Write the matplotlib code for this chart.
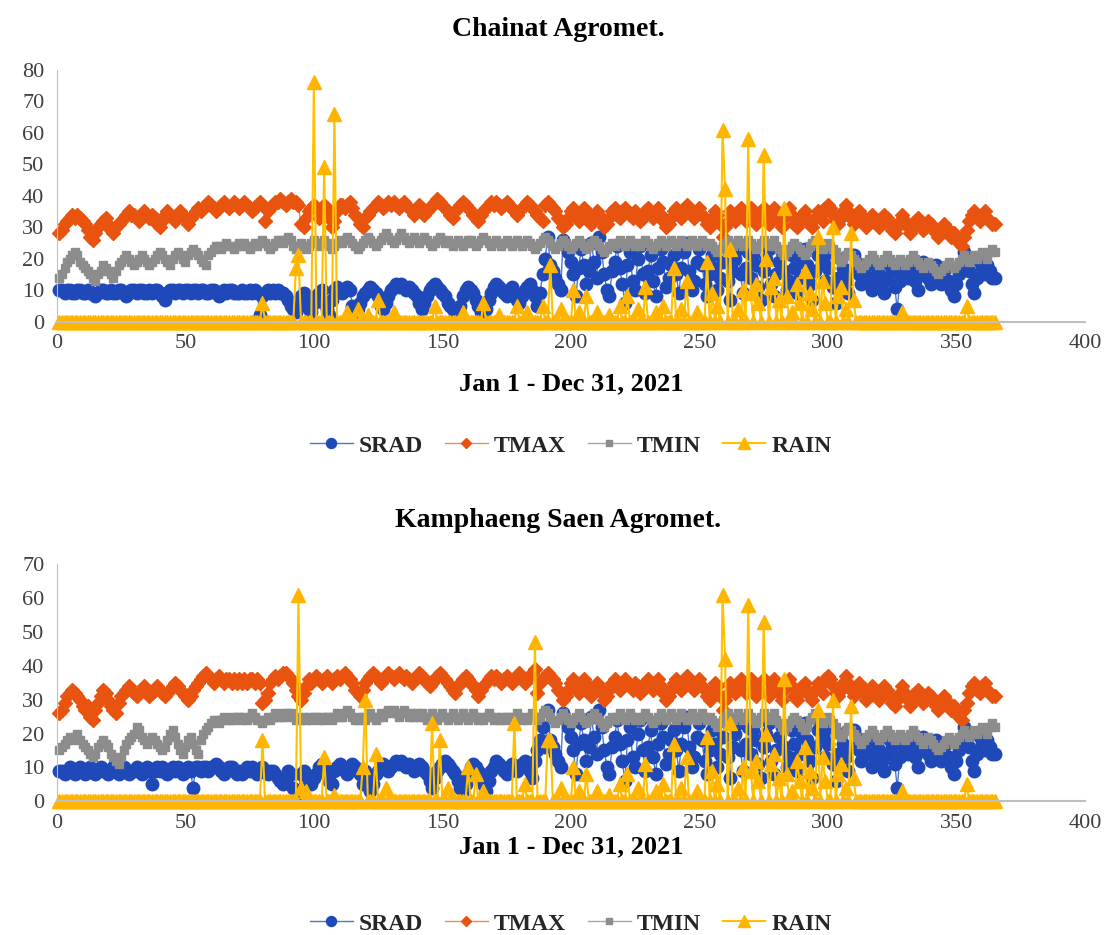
import numpy as np
import matplotlib.pyplot as plt

# ---------------- data ----------------
# Chainat Agromet., day 1..365
srad_cn = [10, 10, 9, 10, 10, 9, 9, 10, 10, 9,
           9, 10, 9, 9, 8, 9, 10, 10, 9, 9,
           10, 9, 9, 10, 10, 9, 8, 9, 10, 10,
           9, 10, 10, 9, 9, 10, 9, 10, 10, 9,
           8, 7, 9, 10, 10, 9, 10, 10, 9, 10,
           10, 9, 10, 10, 9, 10, 10, 9, 9, 10,
           10, 9, 8, 9, 10, 9, 10, 10, 9, 9,
           9, 10, 9, 9, 10, 9, 10, 9, 2, 8,
           9, 10, 9, 10, 9, 10, 9, 9, 8, 7,
           5, 4, 3, 5, 8, 9, 7, 4, 3, 6,
           8, 9, 10, 6, 4, 2, 7, 10, 11, 10,
           9, 10, 11, 10, 5, 3, 4, 6, 8, 9,
           10, 11, 10, 9, 8, 5, 4, 6, 8, 10,
           11, 12, 11, 12, 11, 10, 11, 10, 9, 8,
           6, 4, 6, 8, 10, 11, 12, 11, 10, 9,
           8, 6, 5, 4, 3, 2, 5, 8, 10, 11,
           10, 9, 7, 5, 3, 2, 4, 7, 9, 11,
           12, 11, 10, 9, 8, 10, 11, 9, 7, 6,
           8, 10, 11, 12, 10, 8, 5, 9, 15, 20,
           27, 18, 16, 14, 12, 10, 26, 24, 22, 19,
           15, 8, 17, 23, 18, 12, 16, 25, 19, 14,
           27, 22, 15, 10, 8, 16, 19, 24, 17, 12,
           6, 18, 22, 13, 10, 20, 24, 15, 9, 16,
           21, 13, 8, 17, 23, 19, 11, 14, 18, 21,
           15, 9, 17, 22, 25, 16, 10, 13, 19, 23,
           18, 12, 8, 15, 21, 17, 10, 14, 19, 24,
           13, 7, 16, 20, 23, 15, 9, 17, 22, 14,
           21, 18, 11, 7, 16, 20, 23, 12, 8, 15,
           19, 22, 16, 10, 13, 21, 17, 9, 14, 20,
           23, 18, 12, 7, 16, 21, 24, 19, 13, 17,
           22, 11, 6, 14, 20, 17, 13, 9, 16, 21,
           19, 15, 12, 16, 18, 14, 10, 13, 17, 15,
           12, 9, 14, 18, 16, 11, 4, 13, 17, 15,
           14, 16, 18, 13, 10, 15, 19, 17, 14, 12,
           16, 18, 15, 12, 14, 17, 13, 10, 8, 12,
           15, 18, 22, 20, 16, 12, 9, 14, 19, 17,
           15, 18, 16, 14, 14]
tmax_cn = [28, 29, 31, 32, 33, 34, 33, 34, 33, 32,
           31, 29, 27, 26, 28, 30, 31, 32, 33, 31,
           29, 28, 30, 31, 32, 33, 34, 35, 34, 34,
           33, 32, 34, 35, 34, 33, 34, 33, 31, 30,
           32, 34, 35, 34, 33, 32, 34, 35, 34, 33,
           31, 33, 34, 35, 36, 35, 36, 37, 38, 37,
           36, 35, 36, 37, 38, 37, 36, 37, 38, 37,
           36, 37, 38, 37, 36, 35, 36, 37, 38, 37,
           32, 35, 36, 37, 38, 38, 39, 38, 37, 38,
           39, 38, 38, 37, 31, 30, 33, 35, 36, 37,
           36, 33, 35, 37, 36, 33, 30, 32, 35, 37,
           37, 36, 37, 38, 36, 34, 33, 31, 30, 33,
           34, 35, 36, 37, 38, 37, 36, 37, 38, 37,
           38, 37, 36, 37, 38, 37, 36, 35, 34, 36,
           37, 36, 34, 35, 36, 37, 38, 39, 38, 37,
           36, 35, 34, 33, 35, 36, 37, 38, 37, 36,
           35, 34, 33, 32, 34, 35, 36, 37, 38, 37,
           38, 37, 36, 37, 38, 37, 36, 35, 34, 35,
           36, 37, 38, 37, 36, 35, 34, 33, 32, 37,
           38, 37, 36, 35, 33, 32, 30, 31, 33, 35,
           36, 34, 32, 34, 36, 35, 33, 31, 33, 35,
           34, 32, 30, 31, 33, 35, 36, 34, 33, 35,
           36, 35, 34, 33, 35, 34, 32, 33, 35, 36,
           34, 33, 35, 36, 34, 32, 30, 31, 33, 35,
           36, 34, 33, 35, 37, 36, 34, 33, 35, 36,
           34, 33, 31, 30, 33, 35, 34, 31, 27, 30,
           32, 35, 34, 32, 33, 36, 34, 32, 35, 36,
           34, 31, 33, 35, 36, 33, 31, 34, 36, 35,
           32, 30, 33, 35, 36, 34, 31, 30, 32, 34,
           35, 33, 31, 30, 33, 35, 34, 32, 36, 37,
           36, 34, 32, 31, 33, 35, 37, 35, 33, 31,
           33, 35, 34, 32, 30, 32, 34, 33, 31, 30,
           32, 34, 33, 31, 29, 28, 30, 32, 34, 32,
           30, 28, 30, 32, 33, 31, 29, 30, 32, 31,
           30, 28, 27, 29, 31, 30, 28, 27, 28, 27,
           25, 24, 27, 29, 32, 34, 35, 33, 32, 34,
           35, 33, 32, 31, 31]
tmin_cn = [14, 15, 17, 19, 20, 21, 22, 21, 19, 18,
           17, 16, 15, 14, 13, 15, 16, 18, 17, 16,
           15, 14, 16, 18, 19, 20, 21, 20, 19, 18,
           19, 20, 21, 20, 19, 18, 19, 20, 21, 22,
           21, 20, 19, 18, 20, 21, 22, 21, 20, 19,
           21, 22, 23, 22, 21, 20, 19, 18, 21, 22,
           23, 24, 24, 23, 24, 25, 24, 24, 23, 24,
           25, 24, 25, 24, 23, 24, 25, 24, 25, 26,
           25, 24, 23, 24, 25, 26, 26, 25, 26, 27,
           26, 24, 23, 24, 25, 24, 23, 24, 25, 26,
           25, 24, 25, 26, 25, 24, 23, 24, 25, 26,
           25, 26, 27, 26, 25, 24, 23, 24, 25, 26,
           27, 26, 25, 24, 25, 26, 27, 28, 27, 26,
           25, 26, 27, 28, 27, 26, 25, 26, 27, 26,
           25, 26, 27, 26, 25, 24, 25, 26, 27, 26,
           25, 26, 25, 24, 25, 26, 25, 24, 25, 26,
           26, 25, 24, 25, 26, 27, 26, 25, 24, 25,
           26, 25, 24, 25, 26, 25, 24, 25, 26, 25,
           24, 25, 26, 25, 24, 23, 24, 25, 26, 27,
           26, 25, 24, 23, 24, 25, 26, 25, 24, 23,
           24, 25, 26, 25, 24, 23, 24, 25, 26, 25,
           24, 23, 22, 23, 24, 25, 24, 25, 26, 25,
           24, 25, 26, 25, 24, 25, 24, 25, 26, 25,
           24, 23, 24, 25, 26, 25, 24, 25, 26, 25,
           24, 25, 26, 25, 24, 25, 26, 25, 24, 25,
           26, 25, 24, 25, 24, 23, 22, 23, 24, 25,
           26, 25, 24, 25, 26, 25, 24, 25, 26, 25,
           24, 23, 24, 25, 26, 25, 24, 25, 26, 24,
           23, 22, 21, 22, 23, 24, 25, 24, 23, 22,
           21, 22, 24, 25, 26, 25, 24, 23, 24, 25,
           24, 23, 22, 20, 19, 20, 21, 22, 21, 20,
           19, 18, 17, 18, 19, 20, 21, 20, 19, 18,
           19, 20, 21, 20, 19, 18, 19, 20, 19, 18,
           19, 20, 21, 20, 19, 18, 17, 18, 19, 18,
           17, 16, 15, 16, 17, 18, 19, 18, 17, 18,
           19, 20, 21, 20, 19, 20, 21, 20, 21, 22,
           21, 20, 22, 23, 22]
rain_days_cn = [80, 93, 94, 100, 104, 108, 113, 117, 121, 125, 131, 147, 158,
                166, 172, 179, 183, 189, 192, 196, 201, 203, 206, 210, 215, 219,
                222, 226, 229, 233, 236, 240, 243, 245, 249, 253, 255, 257, 259,
                260, 262, 265, 267, 269, 270, 272, 273, 275, 276, 278, 279, 281,
                283, 284, 286, 288, 289, 291, 293, 294, 296, 298, 299, 302, 304,
                305, 307, 309, 310, 329, 354]
rain_mm_cn = [6, 17, 21, 76, 49, 66, 3, 4, 2, 7, 3, 5, 3,
              6, 2, 5, 3, 5, 18, 4, 10, 3, 8, 3, 2, 5,
              8, 4, 11, 3, 5, 17, 4, 13, 3, 19, 9, 5, 61,
              42, 23, 4, 10, 58, 9, 12, 6, 53, 20, 11, 14, 7,
              36, 8, 3, 12, 6, 16, 9, 4, 27, 13, 6, 30, 8,
              11, 4, 28, 7, 3, 5]

# Kamphaeng Saen Agromet., day 1..190 (after that the traces repeat Chainat's)
srad_ks_head = [9, 9, 8, 9, 10, 9, 8, 9, 10, 9,
                8, 9, 10, 9, 8, 9, 10, 9, 9, 8,
                9, 10, 9, 8, 9, 10, 9, 8, 9, 9,
                10, 9, 8, 9, 10, 9, 5, 9, 10, 9,
                10, 9, 8, 9, 10, 9, 10, 9, 8, 9,
                10, 9, 4, 10, 10, 9, 10, 10, 9, 10,
                10, 11, 10, 9, 8, 9, 10, 10, 9, 8,
                9, 8, 9, 10, 9, 10, 9, 8, 9, 10,
                9, 8, 9, 9, 8, 7, 6, 5, 6, 9,
                8, 4, 1, 3, 8, 9, 8, 6, 5, 7,
                8, 10, 11, 10, 9, 6, 5, 9, 10, 11,
                10, 9, 8, 10, 11, 10, 9, 8, 5, 9,
                6, 3, 5, 8, 9, 10, 11, 10, 9, 10,
                11, 12, 11, 12, 11, 10, 11, 10, 9, 10,
                11, 10, 9, 8, 6, 4, 7, 9, 10, 11,
                12, 11, 10, 9, 8, 6, 4, 3, 5, 8,
                10, 11, 10, 9, 8, 5, 3, 6, 9, 10,
                12, 11, 10, 9, 8, 10, 11, 10, 9, 10,
                11, 12, 10, 9, 7, 12, 15, 18, 22, 16]
tmax_ks_head = [26, 27, 29, 31, 32, 33, 32, 31, 30, 28,
                27, 28, 25, 24, 27, 29, 31, 33, 32, 30,
                28, 27, 26, 29, 31, 32, 33, 34, 33, 32,
                31, 32, 33, 34, 33, 31, 32, 33, 34, 33,
                32, 31, 32, 33, 34, 35, 34, 33, 32, 31,
                30, 31, 33, 34, 35, 36, 37, 38, 37, 36,
                35, 36, 37, 36, 35, 36, 36, 35, 36, 35,
                36, 35, 36, 35, 36, 36, 35, 36, 35, 29,
                30, 32, 35, 36, 37, 36, 37, 38, 38, 37,
                36, 35, 33, 31, 30, 32, 34, 36, 35, 36,
                37, 36, 35, 36, 37, 36, 35, 36, 37, 36,
                37, 38, 37, 36, 35, 33, 32, 31, 33, 35,
                36, 37, 38, 37, 36, 35, 36, 37, 38, 37,
                36, 37, 38, 37, 36, 37, 36, 35, 36, 37,
                38, 37, 36, 35, 34, 35, 36, 37, 38, 37,
                36, 35, 34, 33, 32, 34, 35, 36, 37, 36,
                35, 34, 33, 31, 33, 34, 35, 36, 37, 36,
                37, 36, 35, 36, 37, 36, 35, 36, 37, 38,
                36, 35, 36, 37, 38, 39, 32, 35, 36, 37]
tmin_ks_head = [15, 16, 17, 18, 19, 18, 19, 20, 18, 17,
                16, 15, 14, 13, 14, 16, 17, 18, 17, 16,
                14, 13, 12, 11, 13, 15, 17, 18, 19, 20,
                22, 21, 19, 18, 17, 18, 19, 18, 17, 16,
                15, 16, 18, 20, 21, 19, 17, 15, 14, 16,
                18, 19, 17, 15, 14, 18, 20, 21, 22, 23,
                24, 24, 23, 24, 25, 24, 24, 25, 24, 25,
                25, 24, 25, 24, 25, 26, 25, 24, 24, 23,
                24, 25, 24, 25, 26, 25, 25, 26, 25, 26,
                26, 25, 24, 25, 24, 25, 24, 25, 24, 25,
                25, 24, 25, 24, 25, 25, 24, 25, 26, 25,
                25, 26, 27, 26, 25, 24, 24, 25, 25, 24,
                25, 26, 25, 24, 25, 26, 25, 26, 27, 26,
                27, 26, 25, 26, 27, 26, 25, 26, 25, 26,
                25, 26, 25, 24, 25, 26, 25, 24, 25, 26,
                25, 24, 25, 26, 25, 24, 25, 26, 25, 24,
                25, 26, 25, 24, 25, 24, 25, 26, 25, 24,
                25, 24, 25, 24, 25, 25, 24, 25, 26, 25,
                24, 25, 24, 25, 26, 25, 24, 25, 26, 27]
rain_days_ks_head = [80, 94, 95, 97, 104, 108, 119, 120, 124, 128, 146, 149,
                     152, 160, 163, 166, 178, 182, 186, 191]
rain_mm_ks_head = [18, 61, 4, 3, 13, 2, 10, 30, 14, 4, 23, 18,
                   4, 10, 8, 3, 23, 5, 47, 18]

SPLIT = 190
srad_ks = srad_ks_head + srad_cn[SPLIT:]
tmax_ks = tmax_ks_head + tmax_cn[SPLIT:]
tmin_ks = tmin_ks_head + tmin_cn[SPLIT:]
rain_days_ks = rain_days_ks_head + [d for d in rain_days_cn if d > SPLIT + 1]
rain_mm_ks = rain_mm_ks_head + [v for d, v in zip(rain_days_cn, rain_mm_cn) if d > SPLIT + 1]


def daily_rain(days, mm, n=365):
    r = np.zeros(n)
    r[np.array(days) - 1] = mm
    return r


plt.rcParams['font.family'] = ['Liberation Serif', 'DejaVu Serif']

fig = plt.figure(figsize=[11.15, 9.35], dpi=100)

panels = [
    ("Chainat Agromet.", srad_cn, tmax_cn, tmin_cn, daily_rain(rain_days_cn, rain_mm_cn),
     [0.051, 0.656, 0.922, 0.2695], 80, 0.523, 14, 24),
    ("Kamphaeng Saen Agromet.", srad_ks, tmax_ks, tmin_ks, daily_rain(rain_days_ks, rain_mm_ks),
     [0.051, 0.143, 0.922, 0.2536], 70, 0.012, 2, 27),
]

for title, srad, tmax, tmin, rain, rect, ymax, leg_y, lab_pad, title_pad in panels:
    ax = fig.add_axes(rect)
    ax.plot(np.arange(1, len(srad) + 1), srad, color='#4a78d0', lw=1, marker='o', ms=9,
            mfc='#1f48b8', mec='#1f48b8', label='SRAD', clip_on=False)
    ax.plot(np.arange(1, len(tmax) + 1), tmax, color='#f08a50', lw=1, marker='D', ms=7,
            mfc='#e8540f', mec='#e8540f', label='TMAX', clip_on=False)
    ax.plot(np.arange(1, len(tmin) + 1), tmin, color='#a6a6a6', lw=1, marker='s', ms=6,
            mfc='#8c8c8c', mec='#8c8c8c', label='TMIN', clip_on=False)
    ax.plot(np.arange(1, len(rain) + 1), rain, color='#ffc000', lw=1.5, marker='^', ms=10,
            mfc='#ffb400', mec='#ffb400', label='RAIN', clip_on=False)

    ax.set_xlim(0, 400)
    ax.set_ylim(0, ymax)
    ax.set_xticks(range(0, 401, 50))
    ax.set_yticks(range(0, ymax + 1, 10))
    ax.tick_params(length=0, labelsize=16, colors='#404040', pad=9)
    for s in ['top', 'right']:
        ax.spines[s].set_visible(False)
    ax.spines['left'].set_color('#bfbfbf')
    ax.spines['bottom'].set_color('#bfbfbf')
    ax.spines['bottom'].set_linewidth(1.5)
    ax.set_title(title, fontsize=20, fontweight='bold', pad=title_pad, x=0.488)
    ax.set_xlabel("Jan 1 - Dec 31, 2021", fontsize=19, fontweight='bold', labelpad=lab_pad)

    leg = fig.legend(*ax.get_legend_handles_labels(), loc='center', ncol=4,
                     bbox_to_anchor=(0.512, leg_y), frameon=False,
                     prop={'weight': 'bold', 'size': 17}, handlelength=1.8,
                     handletextpad=0.25, columnspacing=0.95, markerscale=0.8)
    for t in leg.get_texts():
        t.set_color('#262626')

fig.savefig("out.png", dpi=100)
